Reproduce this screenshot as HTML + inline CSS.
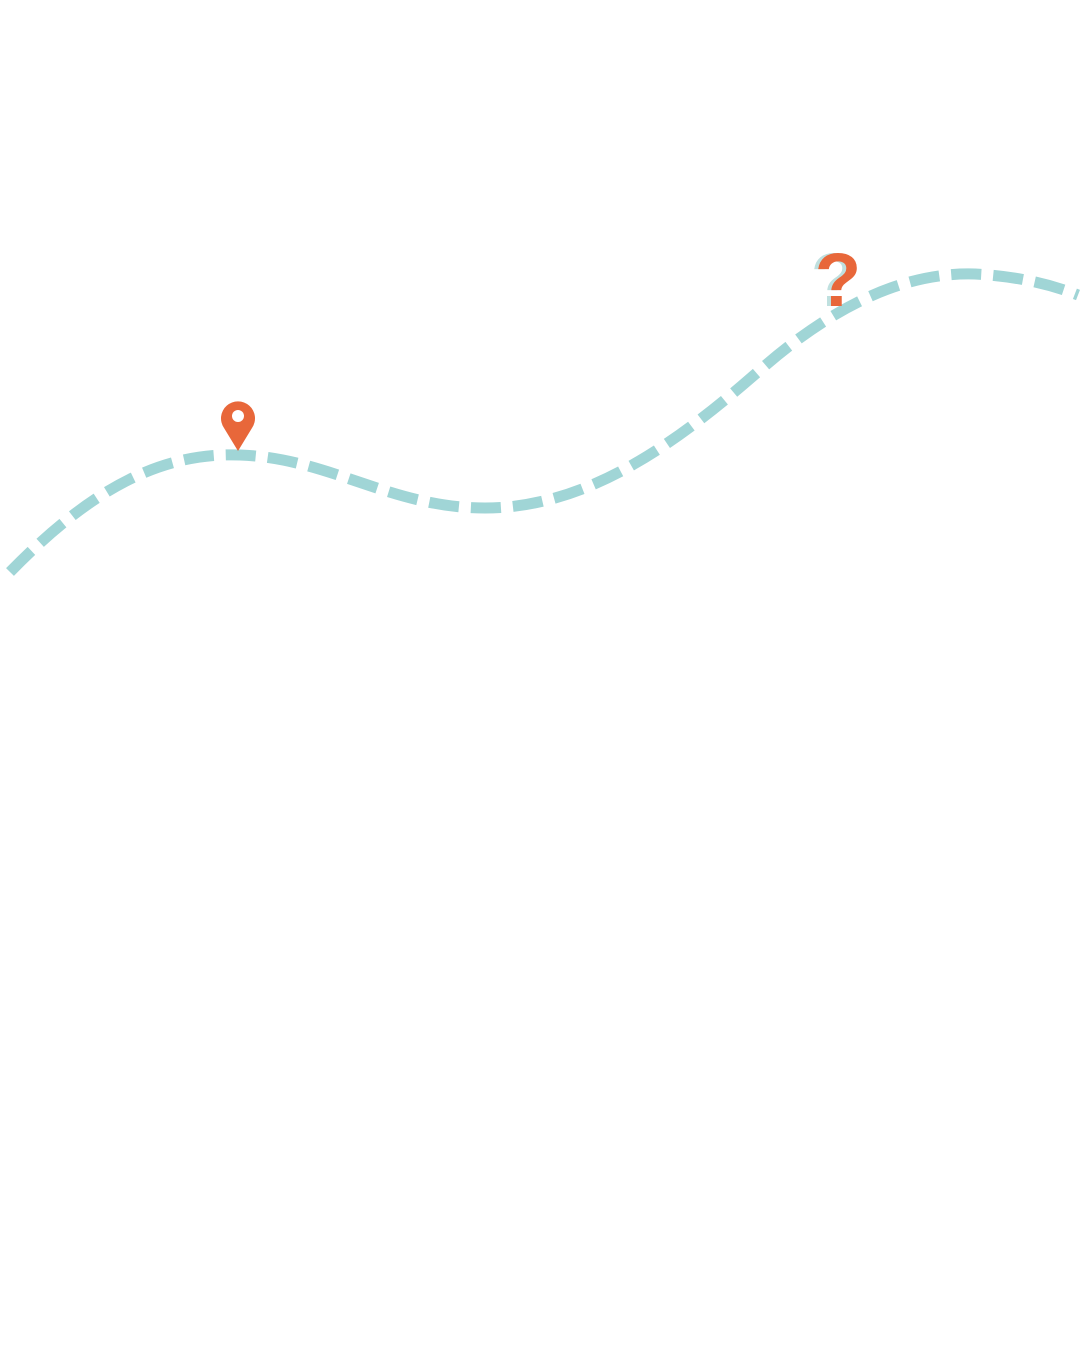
<!DOCTYPE html>
<html>
<head>
<meta charset="utf-8">
<style>
html,body{margin:0;padding:0;background:#fff;}
svg{display:block;}
</style>
</head>
<body>
<svg width="1080" height="1350" viewBox="0 0 1080 1350">
  <rect width="1080" height="1350" fill="#ffffff"/>
  <path
    d="M10,572 C90,490 160,452 240,455 C330,458 390,508 485,508 C590,508 680,440 760,370 C840,300 910,272 975,274 C1015,276 1050,284 1078,295"
    fill="none" stroke="#a0d5d6" stroke-width="11" stroke-dasharray="30 12"/>
  <g>
    <path d="M238,451 L224,428 A17,17 0 1 1 252,428 Z" fill="#e8673a"/>
    <circle cx="238" cy="416" r="6" fill="#ffffff"/>
  </g>
  <g>
    <text x="834" y="306" font-family="Liberation Sans, sans-serif" font-weight="bold" font-size="76" fill="#bfe0df" text-anchor="middle">?</text>
    <text x="838" y="306" font-family="Liberation Sans, sans-serif" font-weight="bold" font-size="76" fill="#e8673a" text-anchor="middle">?</text>
  </g>
</svg>
</body>
</html>
